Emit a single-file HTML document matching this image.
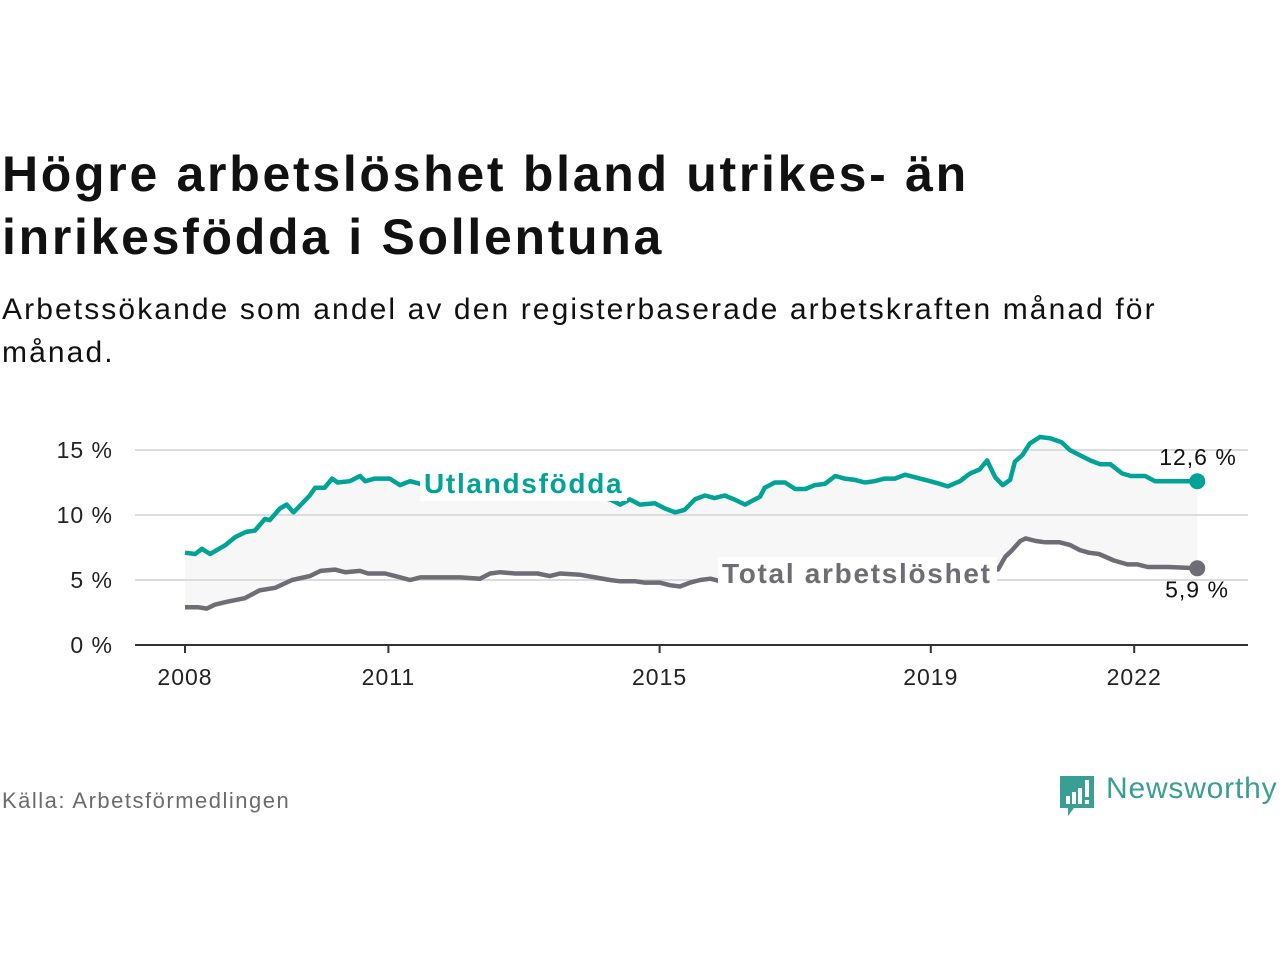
<!DOCTYPE html>
<html><head><meta charset="utf-8">
<style>
body{margin:0;background:#fff;font-family:"Liberation Sans","DejaVu Sans",sans-serif;}
#wrap{position:relative;width:1280px;height:960px;overflow:hidden;}
.title{position:absolute;left:2px;top:143px;font-size:50px;font-weight:bold;line-height:63px;color:#111;letter-spacing:2.7px}
.sub{position:absolute;left:2px;top:288px;font-size:30px;line-height:43px;color:#111;letter-spacing:2.1px}
.src{position:absolute;left:2px;top:788px;font-size:22px;color:#6b6b6b;letter-spacing:1.5px}
</style></head><body>
<div id="wrap">
<div class="title">Högre arbetslöshet bland utrikes- än<br>inrikesfödda i Sollentuna</div>
<div class="sub">Arbetssökande som andel av den registerbaserade arbetskraften månad för<br>månad.</div>
<svg id="chart" width="1280" height="960" style="position:absolute;left:0;top:0"></svg>
<div class="src">Källa: Arbetsförmedlingen</div>
<svg style="position:absolute;left:1058px;top:774px" width="40" height="44">
<path d="M2 2 H36 V34 H16 L10 42 V34 H2 Z" fill="#3a9e95"/>
<rect x="8" y="22" width="4" height="8" fill="#fff"/><rect x="14" y="18" width="4" height="12" fill="#fff"/><rect x="20" y="14" width="4" height="16" fill="#fff"/><rect x="27" y="6" width="4" height="17" fill="#fff"/><rect x="27" y="26" width="4" height="4" fill="#fff"/>
</svg>
<div style="position:absolute;left:1106px;top:772px;font-size:30px;color:#3a9e95;letter-spacing:0.8px">Newsworthy</div>
</div>
<script>
const yTicks=[0,5,10,15];
const yTickLabels=["0 %","5 %","10 %","15 %"];
const xTicks=[2008,2011,2015,2019,2022];
const utlYears=[2008.0,2008.15,2008.25,2008.37,2008.6,2008.74,2008.9,2009.03,2009.18,2009.25,2009.4,2009.5,2009.6,2009.84,2009.92,2010.06,2010.17,2010.25,2010.43,2010.58,2010.66,2010.8,2011.02,2011.17,2011.32,2011.47,2011.8,2012.2,2012.6,2013.0,2013.4,2013.8,2014.08,2014.27,2014.42,2014.56,2014.71,2014.93,2015.08,2015.23,2015.37,2015.52,2015.67,2015.81,2015.96,2016.1,2016.26,2016.48,2016.55,2016.7,2016.85,2017.0,2017.15,2017.29,2017.44,2017.59,2017.73,2017.88,2018.03,2018.17,2018.32,2018.47,2018.62,2018.84,2018.99,2019.13,2019.25,2019.43,2019.58,2019.72,2019.83,2019.95,2020.06,2020.17,2020.24,2020.35,2020.46,2020.61,2020.76,2020.93,2021.05,2021.2,2021.35,2021.5,2021.65,2021.82,2021.95,2022.16,2022.31,2022.5,2022.7,2022.93];
const utlValues=[7.1,7.0,7.4,7.0,7.7,8.3,8.7,8.8,9.7,9.6,10.5,10.8,10.2,11.5,12.1,12.1,12.8,12.5,12.6,13.0,12.6,12.8,12.8,12.3,12.6,12.4,12.4,12.2,12.0,11.8,11.7,11.5,11.4,11.2,10.8,11.2,10.8,10.9,10.5,10.2,10.4,11.2,11.5,11.3,11.5,11.2,10.8,11.4,12.1,12.5,12.5,12.0,12.0,12.3,12.4,13.0,12.8,12.7,12.5,12.6,12.8,12.8,13.1,12.8,12.6,12.4,12.2,12.6,13.2,13.5,14.2,12.9,12.3,12.7,14.1,14.6,15.5,16.0,15.9,15.6,15.0,14.6,14.2,13.9,13.9,13.2,13.0,13.0,12.6,12.6,12.6,12.6];
const totYears=[2008.0,2008.2,2008.32,2008.44,2008.6,2008.88,2009.1,2009.33,2009.58,2009.84,2010.0,2010.21,2010.36,2010.58,2010.7,2010.95,2011.1,2011.32,2011.47,2011.76,2012.06,2012.35,2012.5,2012.65,2012.87,2013.2,2013.38,2013.53,2013.83,2014.05,2014.27,2014.42,2014.64,2014.78,2015.0,2015.15,2015.3,2015.45,2015.6,2015.75,2015.9,2016.3,2016.8,2017.3,2017.8,2018.3,2018.8,2019.3,2019.9,2019.99,2020.1,2020.2,2020.32,2020.4,2020.55,2020.69,2020.9,2021.05,2021.2,2021.33,2021.48,2021.7,2021.9,2022.05,2022.2,2022.5,2022.93];
const totValues=[2.9,2.9,2.8,3.1,3.3,3.6,4.2,4.4,5.0,5.3,5.7,5.8,5.6,5.7,5.5,5.5,5.3,5.0,5.2,5.2,5.2,5.1,5.5,5.6,5.5,5.5,5.3,5.5,5.4,5.2,5.0,4.9,4.9,4.8,4.8,4.6,4.5,4.8,5.0,5.1,4.9,5.0,5.3,5.4,5.6,5.8,5.9,6.0,6.0,5.8,6.8,7.3,8.0,8.2,8.0,7.9,7.9,7.7,7.3,7.1,7.0,6.5,6.2,6.2,6.0,6.0,5.9];
const endLabels=["12,6 %","5,9 %"];

const svg=document.getElementById('chart');
const NS='http://www.w3.org/2000/svg';
const X=y=>185+(y-2008)*67.8;
const Y=v=>645-v*13;
function mk(t,a,p){const e=document.createElementNS(NS,t);for(const k in a)e.setAttribute(k,a[k]);(p||svg).appendChild(e);return e;}

let band='M'+utlYears.map((d,i)=>X(d)+','+Y(utlValues[i])).join('L');
for(let i=totYears.length-1;i>=0;i--)band+='L'+X(totYears[i])+','+Y(totValues[i]);
const b=mk('path',{d:band+'Z',fill:'#f7f7f7'});



yTicks.forEach((v,i)=>{
  if(v>0){const g=mk('line',{x1:135,x2:1248,y1:Y(v),y2:Y(v),stroke:'#dcdcdc','stroke-width':2});
  
  }
  const t=mk('text',{x:113,y:Y(v)+8,'text-anchor':'end','font-size':23,fill:'#222','letter-spacing':1});
  t.textContent=yTickLabels[i];
  
  
});
const ax=mk('line',{x1:135,x2:1248,y1:Y(0),y2:Y(0),stroke:'#333','stroke-width':2});


xTicks.forEach(y=>{
  const tk=mk('line',{x1:X(y),x2:X(y),y1:645,y2:653,stroke:'#333','stroke-width':2});
  
  
  const t=mk('text',{x:X(y),y:685,'text-anchor':'middle','font-size':23,fill:'#222','letter-spacing':1});
  t.textContent=y;
  
  
});

function line(xs,vs,col,name){
  const p=mk('path',{d:'M'+xs.map((d,i)=>X(d)+','+Y(vs[i])).join('L'),fill:'none',stroke:col,'stroke-width':4.5,'stroke-linejoin':'round'});
  
  
  const n=xs.length-1;
  const c=mk('circle',{cx:X(xs[n]),cy:Y(vs[n]),r:8,fill:col});
  
  
}
line(utlYears,utlValues,'#00a396','utlandsfodda-line');
line(totYears,totValues,'#6e6d75','total-line');

function lbl(txt,x,y,w,col,name){
  const r=mk('rect',{x:x-4,y:y-26,width:w+8,height:34,fill:'#fff'});
  
  
  const t=mk('text',{x:x,y:y,'font-size':28,'font-weight':'bold',fill:col,'letter-spacing':1.7});
  t.textContent=txt;
  
  
}
lbl('Utlandsfödda',424,493,199,'#00a396','utlandsfodda-label');
lbl('Total arbetslöshet',722,583,271,'#6e6d75','total-label');

const e1=mk('text',{x:1198,y:Y(utlValues[utlValues.length-1])-16,'text-anchor':'middle','font-size':23,fill:'#111','letter-spacing':1});
e1.textContent=endLabels[0];


const e2=mk('text',{x:1197,y:Y(totValues[totValues.length-1])+29,'text-anchor':'middle','font-size':23,fill:'#111','letter-spacing':1});
e2.textContent=endLabels[1];


</script>
</body></html>
